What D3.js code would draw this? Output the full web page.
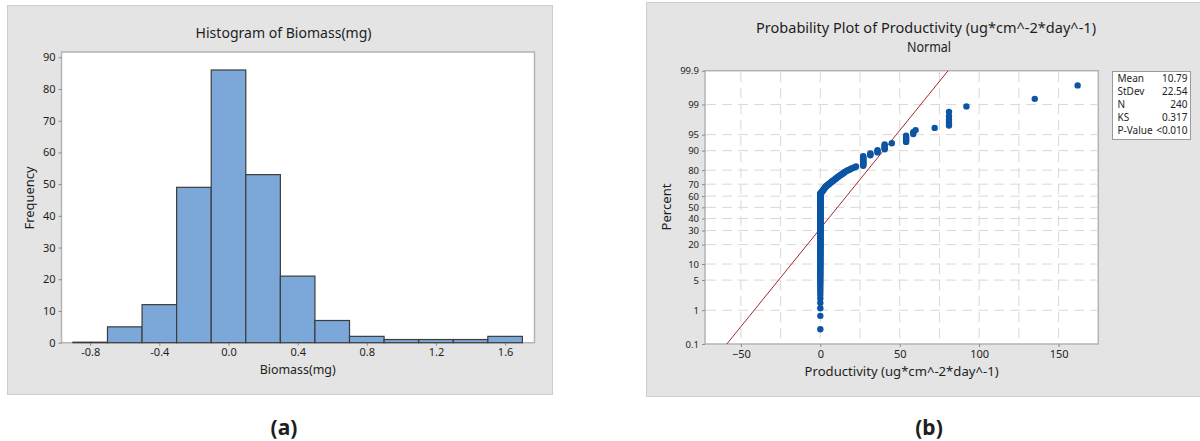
<!DOCTYPE html>
<html>
<head>
<meta charset="utf-8">
<script src="https://cdn.jsdelivr.net/npm/d3@7"></script>
<style>
body { margin: 0; background: #fff; }
text { font-family: "Noto Sans", "Open Sans", sans-serif; fill: #1e1e1e; }
</style>
</head>
<body>
<svg id="chart" width="1200" height="441"></svg>
<script>
// ---- histogram data (a)
var binStarts = [-0.9, -0.7, -0.5, -0.3, -0.1, 0.1, 0.3, 0.5, 0.7, 0.9, 1.1, 1.3, 1.5]
var binWidth = 0.2
var binCounts = [0, 5, 12, 49, 86, 53, 21, 7, 2, 1, 1, 1, 2]
var histXTicks = [-0.8, -0.4, 0.0, 0.4, 0.8, 1.2, 1.6]
var histYTicks = [0, 10, 20, 30, 40, 50, 60, 70, 80, 90]

// ---- probability plot data (b), sorted sample
var zeroCount = 150
var curveValues = [0.5, 0.7, 0.9, 1.1, 1.4, 1.6, 1.8, 2.0, 2.3, 2.5,
  2.7, 3.0, 3.2, 3.5, 3.9, 4.3, 4.7, 5.1, 5.5, 5.9,
  6.3, 6.7, 7.1, 7.6, 8.0, 8.5, 9.0, 9.4, 9.9, 10.4,
  10.8, 11.3, 11.8, 12.3, 12.9, 13.5, 14.0, 14.6, 15.0, 15.5,
  16.3, 17.1, 17.9, 18.8, 19.7, 20.7, 21.7, 22.5]
var tailValues = [27, 31.5, 36, 40.5, 45, 54, 58.5, 60, 72, 81, 92, 135, 162]
var tailCounts = [13, 3, 3, 5, 1, 5, 2, 1, 1, 5, 1, 1, 1]
var probTicks = [0.1, 1, 5, 10, 20, 30, 40, 50, 60, 70, 80, 90, 95, 99, 99.9]
var prodXTicks = [-50, 0, 50, 100, 150]
var prodGrid = [-50, -25, 0, 25, 50, 75, 100, 125, 150]
var fitMean = 10.79, fitSd = 22.54
var statLabels = ["Mean", "StDev", "N", "KS", "P-Value"]
var statValues = ["10.79", "22.54", "240", "0.317", "<0.010"]

var svg = d3.select("#chart")

// inverse normal cdf (Acklam) for the probability scale
function qnorm(p) {
  var a = [-3.969683028665376e+01, 2.209460984245205e+02, -2.759285104469687e+02, 1.383577518672690e+02, -3.066479806614716e+01, 2.506628277459239e+00]
  var b = [-5.447609879822406e+01, 1.615858368580409e+02, -1.556989798598866e+02, 6.680131188771972e+01, -1.328068155288572e+01]
  var c = [-7.784894002430293e-03, -3.223964580411365e-01, -2.400758277161838e+00, -2.549732539343734e+00, 4.374664141464968e+00, 2.938163982698783e+00]
  var d = [7.784695709041462e-03, 3.224671290700398e-01, 2.445134137142996e+00, 3.754408661907416e+00]
  var pl = 0.02425, q, r
  if (p < pl) {
    q = Math.sqrt(-2 * Math.log(p))
    return (((((c[0]*q+c[1])*q+c[2])*q+c[3])*q+c[4])*q+c[5]) / ((((d[0]*q+d[1])*q+d[2])*q+d[3])*q+1)
  }
  if (p > 1 - pl) {
    q = Math.sqrt(-2 * Math.log(1 - p))
    return -(((((c[0]*q+c[1])*q+c[2])*q+c[3])*q+c[4])*q+c[5]) / ((((d[0]*q+d[1])*q+d[2])*q+d[3])*q+1)
  }
  q = p - 0.5; r = q * q
  return (((((a[0]*r+a[1])*r+a[2])*r+a[3])*r+a[4])*r+a[5])*q / (((((b[0]*r+b[1])*r+b[2])*r+b[3])*r+b[4])*r+1)
}

// ===================== panel (a) =====================
svg.append("rect")
  .attr("x", 7.5).attr("y", 5.5).attr("width", 545).attr("height", 389)
  .attr("fill", "#e4e4e4").attr("stroke", "#cdcdcd")

var xH = d3.scaleLinear().domain([-0.966, 1.770]).range([61.5, 534.5])
var yH = d3.scaleLinear().domain([0, 90]).range([342.7, 57.3])

svg.append("rect")
  .attr("x", 61.5).attr("y", 52).attr("width", 473).attr("height", 342.7 - 52)
  .attr("fill", "#fff").attr("stroke", "#b4b4b4").attr("stroke-width", 1.5)

var hxAxis = svg.append("g")
  .attr("transform", "translate(0,342.7)")
  .call(d3.axisBottom(xH).tickValues(histXTicks).tickSize(3).tickPadding(3)
    .tickFormat(d => d.toFixed(1)))
var hyAxis = svg.append("g")
  .attr("transform", "translate(61.5,0)")
  .call(d3.axisLeft(yH).tickValues(histYTicks).tickSize(3).tickPadding(3))
;[hxAxis, hyAxis].forEach(function(g) {
  g.select(".domain").remove()
  g.selectAll(".tick line").attr("stroke", "#8a8a8a")
  g.selectAll("text").style("font-size", "11px").attr("fill", "#1e1e1e")
})

svg.append("g")
  .selectAll("rect")
  .data(binStarts)
  .enter()
  .append("rect")
  .attr("x", d => xH(d))
  .attr("width", d => xH(d + binWidth) - xH(d))
  .attr("y", (d, i) => yH(binCounts[i]) - (binCounts[i] ? 0 : 0.5))
  .attr("height", (d, i) => Math.max(yH(0) - yH(binCounts[i]), 0.5))
  .attr("fill", "#7ca7d9")
  .attr("stroke", "#3c3c3c")
  .attr("stroke-width", 1.2)

svg.append("text")
  .attr("x", 283.6).attr("y", 38)
  .attr("text-anchor", "middle")
  .attr("textLength", 176).attr("lengthAdjust", "spacingAndGlyphs")
  .style("font-size", "14px")
  .text("Histogram of Biomass(mg)")

svg.append("text")
  .attr("x", 297.7).attr("y", 374)
  .attr("text-anchor", "middle")
  .attr("textLength", 76).attr("lengthAdjust", "spacingAndGlyphs")
  .style("font-size", "13px")
  .text("Biomass(mg)")

svg.append("text")
  .attr("transform", "translate(34,198) rotate(-90)")
  .attr("text-anchor", "middle")
  .attr("textLength", 63).attr("lengthAdjust", "spacingAndGlyphs")
  .style("font-size", "13px")
  .text("Frequency")

// ===================== panel (b) =====================
svg.append("rect")
  .attr("x", 646.5).attr("y", 2.5).attr("width", 560).attr("height", 394)
  .attr("fill", "#e4e4e4").attr("stroke", "#cdcdcd")

var xP = d3.scaleLinear().domain([-72.6, 175]).range([705, 1098.3])
var zMin = qnorm(0.001), zMax = qnorm(0.999)
var yZ = d3.scaleLinear().domain([zMin, zMax]).range([344, 70.7])
var yP = function(pct) { return yZ(qnorm(pct / 100)) }

svg.append("rect")
  .attr("x", 705).attr("y", 70.7).attr("width", 1098.3 - 705).attr("height", 344 - 70.7)
  .attr("fill", "#fff").attr("stroke", "#b4b4b4").attr("stroke-width", 1.5)

// grid
var grid = svg.append("g").attr("stroke", "#d8d8d8").attr("stroke-dasharray", "10,6")
grid.selectAll(".vg")
  .data(prodGrid)
  .enter()
  .append("line")
  .attr("x1", d => xP(d)).attr("x2", d => xP(d))
  .attr("y1", 72).attr("y2", 343)
grid.selectAll(".hg")
  .data(probTicks.filter(d => d > 0.1 && d < 99.9))
  .enter()
  .append("line")
  .attr("x1", 706).attr("x2", 1097)
  .attr("y1", d => yP(d)).attr("y2", d => yP(d))

// fitted normal line
svg.append("line")
  .attr("x1", xP(fitMean + fitSd * zMin)).attr("y1", yZ(zMin))
  .attr("x2", xP(fitMean + fitSd * zMax)).attr("y2", yZ(zMax))
  .attr("stroke", "#a52a2a").attr("stroke-width", 1)

// build sorted sample and median-rank plotting positions
var sample = []
for (var k = 0; k < zeroCount; k++) sample.push(0)
curveValues.forEach(v => sample.push(v))
tailValues.forEach(function(v, i) {
  for (var k = 0; k < tailCounts[i]; k++) sample.push(v)
})
var n = sample.length
var pts = sample.map((v, i) => ({ v: v, p: (i + 1 - 0.3) / (n + 0.4) }))

svg.append("g")
  .selectAll("circle")
  .data(pts)
  .enter()
  .append("circle")
  .attr("cx", d => xP(d.v))
  .attr("cy", d => yZ(qnorm(d.p)))
  .attr("r", 3.2)
  .attr("fill", "#0b55a4")

var pxAxis = svg.append("g")
  .attr("transform", "translate(0,344)")
  .call(d3.axisBottom(xP).tickValues(prodXTicks).tickSize(3).tickPadding(3))
var pyAxis = svg.append("g")
  .attr("transform", "translate(705,0)")
  .call(d3.axisLeft(yZ)
    .tickValues(probTicks.map(p => qnorm(p / 100)))
    .tickFormat((d, i) => probTicks[i])
    .tickSize(3).tickPadding(3))
;[pxAxis, pyAxis].forEach(function(g) {
  g.select(".domain").remove()
  g.selectAll(".tick line").attr("stroke", "#8a8a8a")
  g.selectAll("text").attr("fill", "#1e1e1e")
})
pxAxis.selectAll("text").style("font-size", "11px")
pyAxis.selectAll("text").style("font-size", "9.5px")

svg.append("text")
  .attr("x", 926).attr("y", 32.5)
  .attr("text-anchor", "middle")
  .attr("textLength", 340).attr("lengthAdjust", "spacingAndGlyphs")
  .style("font-size", "14px")
  .text("Probability Plot of Productivity (ug*cm^-2*day^-1)")
svg.append("text")
  .attr("x", 929).attr("y", 51.5)
  .attr("text-anchor", "middle")
  .attr("textLength", 44).attr("lengthAdjust", "spacingAndGlyphs")
  .style("font-size", "13.5px")
  .text("Normal")

svg.append("text")
  .attr("x", 901.6).attr("y", 376)
  .attr("text-anchor", "middle")
  .attr("textLength", 194).attr("lengthAdjust", "spacingAndGlyphs")
  .style("font-size", "13px")
  .text("Productivity (ug*cm^-2*day^-1)")

svg.append("text")
  .attr("transform", "translate(671,207) rotate(-90)")
  .attr("text-anchor", "middle")
  .attr("textLength", 47).attr("lengthAdjust", "spacingAndGlyphs")
  .style("font-size", "13px")
  .text("Percent")

// stats box
svg.append("rect")
  .attr("x", 1112.5).attr("y", 71.5).attr("width", 78).attr("height", 68)
  .attr("fill", "#fff").attr("stroke", "#9a9a9a")
var stats = svg.append("g").style("font-size", "10px")
stats.selectAll(".sl")
  .data(statLabels)
  .enter()
  .append("text")
  .attr("x", 1117.5)
  .attr("y", (d, i) => 81.5 + i * 13.2)
  .text(d => d)
stats.selectAll(".sv")
  .data(statValues)
  .enter()
  .append("text")
  .attr("x", 1187.5)
  .attr("y", (d, i) => 81.5 + i * 13.2)
  .attr("text-anchor", "end")
  .text(d => d)

// panel captions
svg.append("text")
  .attr("x", 284).attr("y", 435)
  .attr("text-anchor", "middle")
  .style("font-size", "21px").style("font-weight", "bold")
  .text("(a)")
svg.append("text")
  .attr("x", 929).attr("y", 435)
  .attr("text-anchor", "middle")
  .style("font-size", "21px").style("font-weight", "bold")
  .text("(b)")
</script>
</body>
</html>
